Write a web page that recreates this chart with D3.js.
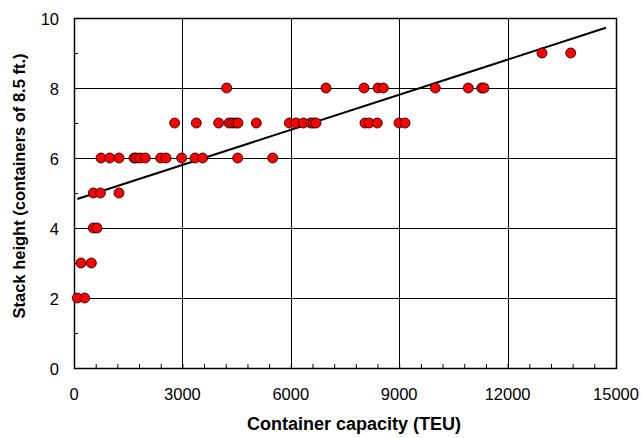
<!DOCTYPE html>
<html>
<head>
<meta charset="utf-8">
<script src="https://cdn.jsdelivr.net/npm/d3@7"></script>
<style>
body { margin: 0; background: #fff; }
text { font-family: "Liberation Sans", Arial, sans-serif; fill: #000; }
.tick-label { font-size: 16.5px; }
.x-title { font-size: 18px; font-weight: bold; }
.y-title { font-size: 16.5px; font-weight: bold; }
</style>
</head>
<body>
<div id="chart"></div>
<script>
var svgWidth = 641;
var svgHeight = 438;
var margin = { top: 18, left: 74, right: 25, bottom: 70 };
var width = svgWidth - margin.left - margin.right;
var height = svgHeight - margin.top - margin.bottom;

// ships: capacity (TEU) and stack height
var capacity = [
    92, 295,
    194, 480,
    535, 637,
    535, 730, 1245,
    747, 988, 1245, 1660, 1716, 1827, 1974, 2399, 2546, 2980, 3349, 3561, 4530, 5499,
    2786, 3385, 4003, 4290, 4382, 4474, 4538, 5046, 5959, 6144, 6347, 6550, 6624, 6697,
    8053, 8173, 8394, 8995, 9161,
    4225, 6974, 8026, 8413, 8560, 9999, 10912, 11283, 11346,
    12952, 13746
];
var stackHeight = [
    2, 2,
    3, 3,
    4, 4,
    5, 5, 5,
    6, 6, 6, 6, 6, 6, 6, 6, 6, 6, 6, 6, 6, 6,
    7, 7, 7, 7, 7, 7, 7, 7, 7, 7, 7, 7, 7, 7,
    7, 7, 7, 7, 7,
    8, 8, 8, 8, 8, 8, 8, 8, 8,
    9, 9
];
// linear trend line end points
var trendX = [90, 14720];
var trendY = [4.83, 9.72];

var xTicks = [0, 3000, 6000, 9000, 12000, 15000];
var yTicks = [0, 2, 4, 6, 8, 10];

var points = capacity.map(function (c, i) { return { x: c, y: stackHeight[i] }; });
var trend = trendX.map(function (t, i) { return { x: t, y: trendY[i] }; });

var svg = d3.select("#chart")
    .append("svg")
    .attr("width", svgWidth)
    .attr("height", svgHeight)
    .append("g")
    .attr("transform", "translate(" + margin.left + "," + margin.top + ")");

var x = d3.scaleLinear().domain([0, 15000]).range([0, width]);
var y = d3.scaleLinear().domain([0, 10]).range([height, 0]);

// grid
svg.append("g")
    .selectAll("line")
    .data(xTicks.slice(1, -1))
    .join("line")
    .attr("x1", d => Math.round(x(d)) + 0.5)
    .attr("x2", d => Math.round(x(d)) + 0.5)
    .attr("y1", 0)
    .attr("y2", height)
    .attr("stroke", "#000");
svg.append("g")
    .selectAll("line")
    .data(yTicks.slice(1, -1))
    .join("line")
    .attr("y1", d => Math.round(y(d)) + 0.5)
    .attr("y2", d => Math.round(y(d)) + 0.5)
    .attr("x1", 0)
    .attr("x2", width)
    .attr("stroke", "#000");

// minor ticks
var xAxis = d3.axisBottom(x)
    .tickValues(d3.range(0, 15001, 600))
    .tickSize(-4)
    .tickFormat("");
svg.append("g")
    .attr("transform", "translate(0," + height + ")")
    .call(xAxis)
    .call(g => g.select(".domain").remove());

var yAxis = d3.axisLeft(y)
    .tickValues(d3.range(1, 10, 2))
    .tickSize(-4)
    .tickFormat("");
svg.append("g")
    .call(yAxis)
    .call(g => g.select(".domain").remove());

// frame
svg.append("rect")
    .attr("x", 0.5)
    .attr("y", 0.5)
    .attr("width", width)
    .attr("height", height)
    .attr("fill", "none")
    .attr("stroke", "#000")
    .attr("stroke-width", 1.5);

// tick labels
svg.append("g")
    .selectAll("text")
    .data(xTicks)
    .join("text")
    .attr("class", "tick-label")
    .attr("x", d => x(d))
    .attr("y", height + 32)
    .attr("text-anchor", "middle")
    .text(d => d);
svg.append("g")
    .selectAll("text")
    .data(yTicks)
    .join("text")
    .attr("class", "tick-label")
    .attr("x", -15)
    .attr("y", d => y(d) + 7)
    .attr("text-anchor", "end")
    .text(d => d);

// axis titles
svg.append("text")
    .attr("class", "x-title")
    .attr("x", 280)
    .attr("y", height + 62)
    .attr("text-anchor", "middle")
    .text("Container capacity (TEU)");
svg.append("text")
    .attr("class", "y-title")
    .attr("transform", "translate(" + (-49) + "," + 168 + ") rotate(-90)")
    .attr("text-anchor", "middle")
    .text("Stack height (containers of 8.5 ft.)");

// trend line
var line = d3.line()
    .x(d => x(d.x))
    .y(d => y(d.y));
svg.append("path")
    .datum(trend)
    .attr("fill", "none")
    .attr("stroke", "#000")
    .attr("stroke-width", 2)
    .attr("d", line);

// points
svg.append("g")
    .selectAll("circle")
    .data(points)
    .join("circle")
    .attr("cx", d => x(d.x))
    .attr("cy", d => y(d.y))
    .attr("r", 5)
    .attr("fill", "#ff0000")
    .attr("stroke", "#000")
    .attr("stroke-width", 0.8);
</script>
</body>
</html>
